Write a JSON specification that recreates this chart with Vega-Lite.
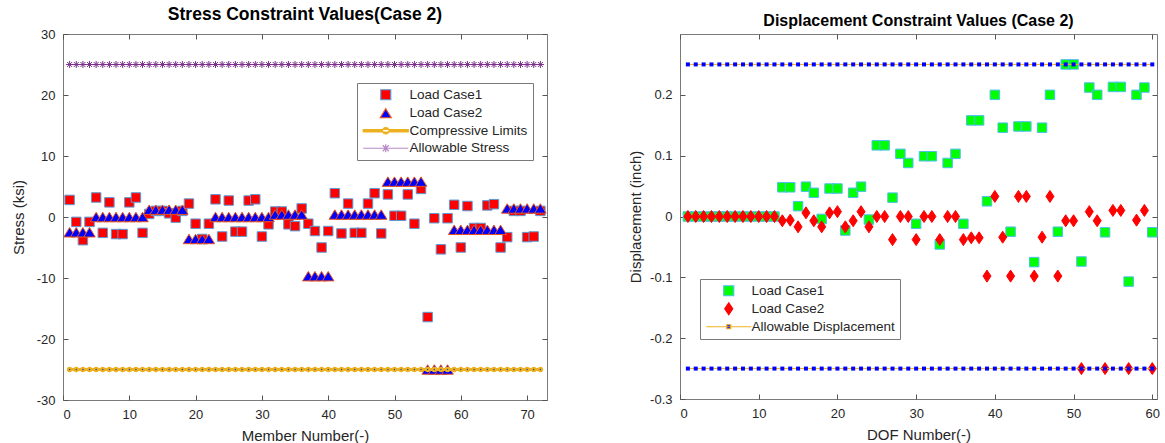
{
  "$schema": "https://vega.github.io/schema/vega-lite/v6.json",
  "padding": {"left": 10, "top": 5, "right": 7, "bottom": 0},
  "spacing": 79,
  "config": {
    "font": "Liberation Sans",
    "view": {"stroke": "#7a7a7a", "strokeWidth": 1},
    "axis": {"domain": false, "grid": false, "labelFont": "Liberation Sans", "labelFontSize": 13, "labelColor": "#262626", "tickColor": "#555555", "tickSize": -5, "labelPadding": 13, "titleFont": "Liberation Sans", "titleFontSize": 15, "titleFontWeight": "normal", "titleColor": "#262626"},
    "title": {"font": "Liberation Sans", "fontSize": 16, "fontWeight": "bold", "color": "#000000", "offset": 5, "anchor": "middle"},
    "legend": {"titleFontSize": 0}
  },
  "resolve": {"scale": {"fill": "independent", "stroke": "independent", "shape": "independent"}},
  "datasets": {
    "stress": [
      {"m":1,"lc1":2.8,"lc2":-2.5,"cl":-25,"as":25},
      {"m":2,"lc1":-0.8,"lc2":-2.5,"cl":-25,"as":25},
      {"m":3,"lc1":-3.8,"lc2":-2.5,"cl":-25,"as":25},
      {"m":4,"lc1":-0.8,"lc2":-2.5,"cl":-25,"as":25},
      {"m":5,"lc1":3.2,"lc2":0,"cl":-25,"as":25},
      {"m":6,"lc1":-2.6,"lc2":0,"cl":-25,"as":25},
      {"m":7,"lc1":2.4,"lc2":0,"cl":-25,"as":25},
      {"m":8,"lc1":-2.8,"lc2":0,"cl":-25,"as":25},
      {"m":9,"lc1":-2.8,"lc2":0,"cl":-25,"as":25},
      {"m":10,"lc1":2.4,"lc2":0,"cl":-25,"as":25},
      {"m":11,"lc1":3.2,"lc2":0,"cl":-25,"as":25},
      {"m":12,"lc1":-2.6,"lc2":0,"cl":-25,"as":25},
      {"m":13,"lc1":0.5,"lc2":1.2,"cl":-25,"as":25},
      {"m":14,"lc1":1.0,"lc2":1.2,"cl":-25,"as":25},
      {"m":15,"lc1":1.0,"lc2":1.2,"cl":-25,"as":25},
      {"m":16,"lc1":0.6,"lc2":1.2,"cl":-25,"as":25},
      {"m":17,"lc1":-0.1,"lc2":1.2,"cl":-25,"as":25},
      {"m":18,"lc1":1.0,"lc2":1.2,"cl":-25,"as":25},
      {"m":19,"lc1":2.2,"lc2":-3.6,"cl":-25,"as":25},
      {"m":20,"lc1":-1.1,"lc2":-3.6,"cl":-25,"as":25},
      {"m":21,"lc1":-3.6,"lc2":-3.6,"cl":-25,"as":25},
      {"m":22,"lc1":-1.1,"lc2":-3.6,"cl":-25,"as":25},
      {"m":23,"lc1":2.9,"lc2":0,"cl":-25,"as":25},
      {"m":24,"lc1":-3.2,"lc2":0,"cl":-25,"as":25},
      {"m":25,"lc1":2.7,"lc2":0,"cl":-25,"as":25},
      {"m":26,"lc1":-2.4,"lc2":0,"cl":-25,"as":25},
      {"m":27,"lc1":-2.4,"lc2":0,"cl":-25,"as":25},
      {"m":28,"lc1":2.7,"lc2":0,"cl":-25,"as":25},
      {"m":29,"lc1":2.9,"lc2":0,"cl":-25,"as":25},
      {"m":30,"lc1":-3.2,"lc2":0,"cl":-25,"as":25},
      {"m":31,"lc1":-1.2,"lc2":0,"cl":-25,"as":25},
      {"m":32,"lc1":0.9,"lc2":0.4,"cl":-25,"as":25},
      {"m":33,"lc1":0.9,"lc2":0.4,"cl":-25,"as":25},
      {"m":34,"lc1":-1.2,"lc2":0.4,"cl":-25,"as":25},
      {"m":35,"lc1":-1.5,"lc2":0.4,"cl":-25,"as":25},
      {"m":36,"lc1":1.4,"lc2":0.4,"cl":-25,"as":25},
      {"m":37,"lc1":-1.1,"lc2":-9.7,"cl":-25,"as":25},
      {"m":38,"lc1":-2.3,"lc2":-9.7,"cl":-25,"as":25},
      {"m":39,"lc1":-5.0,"lc2":-9.7,"cl":-25,"as":25},
      {"m":40,"lc1":-2.3,"lc2":-9.7,"cl":-25,"as":25},
      {"m":41,"lc1":3.9,"lc2":0.4,"cl":-25,"as":25},
      {"m":42,"lc1":-2.7,"lc2":0.4,"cl":-25,"as":25},
      {"m":43,"lc1":2.2,"lc2":0.4,"cl":-25,"as":25},
      {"m":44,"lc1":-2.6,"lc2":0.4,"cl":-25,"as":25},
      {"m":45,"lc1":-2.6,"lc2":0.4,"cl":-25,"as":25},
      {"m":46,"lc1":2.2,"lc2":0.4,"cl":-25,"as":25},
      {"m":47,"lc1":3.9,"lc2":0.4,"cl":-25,"as":25},
      {"m":48,"lc1":-2.7,"lc2":0.4,"cl":-25,"as":25},
      {"m":49,"lc1":3.7,"lc2":5.8,"cl":-25,"as":25},
      {"m":50,"lc1":0.2,"lc2":5.8,"cl":-25,"as":25},
      {"m":51,"lc1":0.2,"lc2":5.8,"cl":-25,"as":25},
      {"m":52,"lc1":3.7,"lc2":5.8,"cl":-25,"as":25},
      {"m":53,"lc1":-1.1,"lc2":5.8,"cl":-25,"as":25},
      {"m":54,"lc1":4.6,"lc2":5.8,"cl":-25,"as":25},
      {"m":55,"lc1":-16.4,"lc2":-25,"cl":-25,"as":25},
      {"m":56,"lc1":-0.2,"lc2":-25,"cl":-25,"as":25},
      {"m":57,"lc1":-5.3,"lc2":-25,"cl":-25,"as":25},
      {"m":58,"lc1":-0.2,"lc2":-25,"cl":-25,"as":25},
      {"m":59,"lc1":2.0,"lc2":-2.1,"cl":-25,"as":25},
      {"m":60,"lc1":-5.0,"lc2":-2.1,"cl":-25,"as":25},
      {"m":61,"lc1":1.8,"lc2":-2.1,"cl":-25,"as":25},
      {"m":62,"lc1":-1.8,"lc2":-2.1,"cl":-25,"as":25},
      {"m":63,"lc1":-1.8,"lc2":-2.1,"cl":-25,"as":25},
      {"m":64,"lc1":1.9,"lc2":-2.1,"cl":-25,"as":25},
      {"m":65,"lc1":2.1,"lc2":-2.1,"cl":-25,"as":25},
      {"m":66,"lc1":-5.0,"lc2":-2.1,"cl":-25,"as":25},
      {"m":67,"lc1":-3.3,"lc2":1.4,"cl":-25,"as":25},
      {"m":68,"lc1":1.0,"lc2":1.4,"cl":-25,"as":25},
      {"m":69,"lc1":1.0,"lc2":1.4,"cl":-25,"as":25},
      {"m":70,"lc1":-3.3,"lc2":1.4,"cl":-25,"as":25},
      {"m":71,"lc1":-3.2,"lc2":1.4,"cl":-25,"as":25},
      {"m":72,"lc1":1.0,"lc2":1.4,"cl":-25,"as":25}
    ],
    "disp": [
      {"d":1,"lc1":0,"lc2":0,"hi":0.25,"lo":-0.25},
      {"d":2,"lc1":0,"lc2":0,"hi":0.25,"lo":-0.25},
      {"d":3,"lc1":0,"lc2":0,"hi":0.25,"lo":-0.25},
      {"d":4,"lc1":0,"lc2":0,"hi":0.25,"lo":-0.25},
      {"d":5,"lc1":0,"lc2":0,"hi":0.25,"lo":-0.25},
      {"d":6,"lc1":0,"lc2":0,"hi":0.25,"lo":-0.25},
      {"d":7,"lc1":0,"lc2":0,"hi":0.25,"lo":-0.25},
      {"d":8,"lc1":0,"lc2":0,"hi":0.25,"lo":-0.25},
      {"d":9,"lc1":0,"lc2":0,"hi":0.25,"lo":-0.25},
      {"d":10,"lc1":0,"lc2":0,"hi":0.25,"lo":-0.25},
      {"d":11,"lc1":0,"lc2":0,"hi":0.25,"lo":-0.25},
      {"d":12,"lc1":0,"lc2":0,"hi":0.25,"lo":-0.25},
      {"d":13,"lc1":0.048,"lc2":-0.007,"hi":0.25,"lo":-0.25},
      {"d":14,"lc1":0.048,"lc2":-0.006,"hi":0.25,"lo":-0.25},
      {"d":15,"lc1":0.017,"lc2":-0.017,"hi":0.25,"lo":-0.25},
      {"d":16,"lc1":0.049,"lc2":0.006,"hi":0.25,"lo":-0.25},
      {"d":17,"lc1":0.039,"lc2":-0.007,"hi":0.25,"lo":-0.25},
      {"d":18,"lc1":-0.004,"lc2":-0.017,"hi":0.25,"lo":-0.25},
      {"d":19,"lc1":0.046,"lc2":0.006,"hi":0.25,"lo":-0.25},
      {"d":20,"lc1":0.046,"lc2":0.008,"hi":0.25,"lo":-0.25},
      {"d":21,"lc1":-0.023,"lc2":-0.017,"hi":0.25,"lo":-0.25},
      {"d":22,"lc1":0.039,"lc2":-0.007,"hi":0.25,"lo":-0.25},
      {"d":23,"lc1":0.049,"lc2":0.008,"hi":0.25,"lo":-0.25},
      {"d":24,"lc1":-0.005,"lc2":-0.017,"hi":0.25,"lo":-0.25},
      {"d":25,"lc1":0.117,"lc2":0,"hi":0.25,"lo":-0.25},
      {"d":26,"lc1":0.117,"lc2":0,"hi":0.25,"lo":-0.25},
      {"d":27,"lc1":0.031,"lc2":-0.038,"hi":0.25,"lo":-0.25},
      {"d":28,"lc1":0.103,"lc2":0,"hi":0.25,"lo":-0.25},
      {"d":29,"lc1":0.088,"lc2":0,"hi":0.25,"lo":-0.25},
      {"d":30,"lc1":-0.012,"lc2":-0.038,"hi":0.25,"lo":-0.25},
      {"d":31,"lc1":0.099,"lc2":0,"hi":0.25,"lo":-0.25},
      {"d":32,"lc1":0.099,"lc2":0,"hi":0.25,"lo":-0.25},
      {"d":33,"lc1":-0.046,"lc2":-0.038,"hi":0.25,"lo":-0.25},
      {"d":34,"lc1":0.088,"lc2":0,"hi":0.25,"lo":-0.25},
      {"d":35,"lc1":0.103,"lc2":0,"hi":0.25,"lo":-0.25},
      {"d":36,"lc1":-0.012,"lc2":-0.038,"hi":0.25,"lo":-0.25},
      {"d":37,"lc1":0.158,"lc2":-0.035,"hi":0.25,"lo":-0.25},
      {"d":38,"lc1":0.158,"lc2":-0.035,"hi":0.25,"lo":-0.25},
      {"d":39,"lc1":0.025,"lc2":-0.098,"hi":0.25,"lo":-0.25},
      {"d":40,"lc1":0.2,"lc2":0.033,"hi":0.25,"lo":-0.25},
      {"d":41,"lc1":0.146,"lc2":-0.034,"hi":0.25,"lo":-0.25},
      {"d":42,"lc1":-0.025,"lc2":-0.098,"hi":0.25,"lo":-0.25},
      {"d":43,"lc1":0.148,"lc2":0.033,"hi":0.25,"lo":-0.25},
      {"d":44,"lc1":0.148,"lc2":0.033,"hi":0.25,"lo":-0.25},
      {"d":45,"lc1":-0.075,"lc2":-0.098,"hi":0.25,"lo":-0.25},
      {"d":46,"lc1":0.146,"lc2":-0.034,"hi":0.25,"lo":-0.25},
      {"d":47,"lc1":0.2,"lc2":0.033,"hi":0.25,"lo":-0.25},
      {"d":48,"lc1":-0.025,"lc2":-0.098,"hi":0.25,"lo":-0.25},
      {"d":49,"lc1":0.25,"lc2":-0.007,"hi":0.25,"lo":-0.25},
      {"d":50,"lc1":0.25,"lc2":-0.007,"hi":0.25,"lo":-0.25},
      {"d":51,"lc1":-0.074,"lc2":-0.25,"hi":0.25,"lo":-0.25},
      {"d":52,"lc1":0.212,"lc2":0.008,"hi":0.25,"lo":-0.25},
      {"d":53,"lc1":0.2,"lc2":-0.007,"hi":0.25,"lo":-0.25},
      {"d":54,"lc1":-0.026,"lc2":-0.25,"hi":0.25,"lo":-0.25},
      {"d":55,"lc1":0.213,"lc2":0.01,"hi":0.25,"lo":-0.25},
      {"d":56,"lc1":0.213,"lc2":0.01,"hi":0.25,"lo":-0.25},
      {"d":57,"lc1":-0.107,"lc2":-0.25,"hi":0.25,"lo":-0.25},
      {"d":58,"lc1":0.2,"lc2":-0.006,"hi":0.25,"lo":-0.25},
      {"d":59,"lc1":0.212,"lc2":0.01,"hi":0.25,"lo":-0.25},
      {"d":60,"lc1":-0.026,"lc2":-0.25,"hi":0.25,"lo":-0.25}
    ]
  },
  "hconcat": [
    {
      "width": 484,
      "height": 366,
      "title": {"text": "Stress Constraint Values(Case 2)", "fontSize": 17.5},
      "data": {"name": "stress"},
      "resolve": {"axis": {"x": "independent", "y": "independent"}},
      "layer": [
        {
          "mark": {"type": "point", "filled": true, "opacity": 1, "size": 90, "strokeWidth": 1},
          "encoding": {
            "x": {"field": "m", "type": "quantitative", "scale": {"domain": [0, 73], "nice": false, "zero": false}, "axis": {"orient": "bottom", "values": [0,10,20,30,40,50,60,70], "labelExpr": "'' + datum.value", "title": "Member Number(-)", "titlePadding": 7}},
            "y": {"field": "lc1", "type": "quantitative", "scale": {"domain": [-30, 30], "nice": false, "zero": false}, "axis": {"orient": "left", "values": [-30,-20,-10,0,10,20,30], "labelExpr": "'' + datum.value", "title": "Stress (ksi)", "titlePadding": 10}},
            "fill": {"datum": "Load Case1", "type": "nominal", "scale": {"domain": ["Load Case1", "Load Case2", "Compressive Limits", "Allowable Stress"], "range": ["#ff0000", "#0000ff", "#EDB120", "#8d4c9e"]}, "legend": {"title": null, "orient": "none", "legendX": 294, "legendY": 49, "symbolSize": 100, "symbolStrokeWidth": 1.2, "symbolOffset": 17, "labelOffset": 17, "labelFont": "Liberation Sans", "labelFontSize": 13.5, "labelColor": "#262626", "strokeColor": "#7a7a7a", "fillColor": "#ffffff", "padding": 5, "rowPadding": 2.5, "labelLimit": 300}},
            "stroke": {"datum": "Load Case1", "type": "nominal", "scale": {"domain": ["Load Case1", "Load Case2", "Compressive Limits", "Allowable Stress"], "range": ["#5b9bd5", "#e8541c", "#EDB120", "#b98ac9"]}, "legend": {"title": null, "orient": "none", "legendX": 294, "legendY": 49, "symbolSize": 100, "symbolStrokeWidth": 1.2, "symbolOffset": 17, "labelOffset": 17, "labelFont": "Liberation Sans", "labelFontSize": 13.5, "labelColor": "#262626", "strokeColor": "#7a7a7a", "fillColor": "#ffffff", "padding": 5, "rowPadding": 2.5, "labelLimit": 300}},
            "shape": {"datum": "Load Case1", "type": "nominal", "scale": {"domain": ["Load Case1", "Load Case2", "Compressive Limits", "Allowable Stress"], "range": ["square", "M0,-0.9L1.1,0.9L-1.1,0.9Z", "M-4.5,-0.25L4.5,-0.25L4.5,0.25L-4.5,0.25ZM-0.65,0A0.65,0.65 0 1,0 0.65,0A0.65,0.65 0 1,0 -0.65,0Z", "M-4.5,0L4.5,0M-0.8,0L0.8,0M0,-0.8L0,0.8M-0.6,-0.6L0.6,0.6M-0.6,0.6L0.6,-0.6"]}, "legend": {"title": null, "orient": "none", "legendX": 294, "legendY": 49, "symbolSize": 100, "symbolStrokeWidth": 1.2, "symbolOffset": 17, "labelOffset": 17, "labelFont": "Liberation Sans", "labelFontSize": 13.5, "labelColor": "#262626", "strokeColor": "#7a7a7a", "fillColor": "#ffffff", "padding": 5, "rowPadding": 2.5, "labelLimit": 300}}
          }
        },
        {
          "mark": {"type": "point", "filled": true, "opacity": 1, "size": 110, "strokeWidth": 1},
          "encoding": {
            "x": {"field": "m", "type": "quantitative", "axis": {"orient": "top", "values": [0,10,20,30,40,50,60,70], "labels": false, "title": null}},
            "y": {"field": "lc2", "type": "quantitative", "axis": {"orient": "right", "values": [-30,-20,-10,0,10,20,30], "labels": false, "title": null}},
            "fill": {"datum": "Load Case2", "type": "nominal"},
            "stroke": {"datum": "Load Case2", "type": "nominal"},
            "shape": {"datum": "Load Case2", "type": "nominal"}
          }
        },
        {
          "mark": {"type": "line", "color": "#EDB120", "strokeWidth": 3},
          "encoding": {
            "x": {"field": "m", "type": "quantitative", "axis": null},
            "y": {"field": "cl", "type": "quantitative", "axis": null}
          }
        },
        {
          "mark": {"type": "point", "shape": "circle", "filled": true, "color": "#EDB120", "size": 30, "opacity": 1},
          "encoding": {
            "x": {"field": "m", "type": "quantitative", "axis": null},
            "y": {"field": "cl", "type": "quantitative", "axis": null}
          }
        },
        {
          "mark": {"type": "point", "shape": "circle", "filled": true, "color": "#3040a0", "size": 2, "opacity": 1},
          "encoding": {
            "x": {"field": "m", "type": "quantitative", "axis": null},
            "y": {"field": "cl", "type": "quantitative", "axis": null}
          }
        },
        {
          "mark": {"type": "line", "color": "#c9a0dc", "strokeWidth": 1},
          "encoding": {
            "x": {"field": "m", "type": "quantitative", "axis": null},
            "y": {"field": "as", "type": "quantitative", "axis": null}
          }
        },
        {
          "mark": {"type": "point", "shape": "M-1,0L1,0M0,-1L0,1M-0.7,-0.7L0.7,0.7M-0.7,0.7L0.7,-0.7", "filled": false, "color": "#7E2F8E", "size": 50, "strokeWidth": 1, "opacity": 1},
          "encoding": {
            "x": {"field": "m", "type": "quantitative", "axis": null},
            "y": {"field": "as", "type": "quantitative", "axis": null}
          }
        }
      ]
    },
    {
      "width": 477,
      "height": 365,
      "title": {"text": "Displacement Constraint Values (Case 2)", "fontSize": 16},
      "data": {"name": "disp"},
      "resolve": {"axis": {"x": "independent", "y": "independent"}},
      "layer": [
        {
          "mark": {"type": "point", "filled": true, "opacity": 1, "size": 90, "strokeWidth": 1},
          "encoding": {
            "x": {"field": "d", "type": "quantitative", "scale": {"domain": [0, 60.6], "nice": false, "zero": false}, "axis": {"orient": "bottom", "values": [0,10,20,30,40,50,60], "labelExpr": "'' + datum.value", "title": "DOF Number(-)", "titlePadding": 7}},
            "y": {"field": "lc1", "type": "quantitative", "scale": {"domain": [-0.3, 0.3], "nice": false, "zero": false}, "axis": {"orient": "left", "values": [-0.3,-0.2,-0.1,0,0.1,0.2], "labelExpr": "'' + datum.value", "title": "Displacement (inch)", "titlePadding": 6}},
            "fill": {"datum": "Load Case1", "type": "nominal", "scale": {"domain": ["Load Case1", "Load Case2", "Allowable Displacement"], "range": ["#00ff00", "#ff0000", "#0000ff"]}, "legend": {"title": null, "orient": "none", "legendX": 20, "legendY": 245, "symbolSize": 100, "symbolStrokeWidth": 1.2, "symbolOffset": 17, "labelOffset": 16, "labelFont": "Liberation Sans", "labelFontSize": 13.5, "labelColor": "#262626", "strokeColor": "#7a7a7a", "fillColor": "#ffffff", "padding": 5, "rowPadding": 1, "labelLimit": 300}},
            "stroke": {"datum": "Load Case1", "type": "nominal", "scale": {"domain": ["Load Case1", "Load Case2", "Allowable Displacement"], "range": ["#4dbeee", "#ff0000", "#EDB120"]}, "legend": {"title": null, "orient": "none", "legendX": 20, "legendY": 245, "symbolSize": 100, "symbolStrokeWidth": 1.2, "symbolOffset": 17, "labelOffset": 16, "labelFont": "Liberation Sans", "labelFontSize": 13.5, "labelColor": "#262626", "strokeColor": "#7a7a7a", "fillColor": "#ffffff", "padding": 5, "rowPadding": 1, "labelLimit": 300}},
            "shape": {"datum": "Load Case1", "type": "nominal", "scale": {"domain": ["Load Case1", "Load Case2", "Allowable Displacement"], "range": ["square", "M0,-1.2L0.8,0L0,1.2L-0.8,0Z", "M-4.5,0L4.5,0M-0.4,-0.4L0.4,-0.4L0.4,0.4L-0.4,0.4Z"]}, "legend": {"title": null, "orient": "none", "legendX": 20, "legendY": 245, "symbolSize": 100, "symbolStrokeWidth": 1.2, "symbolOffset": 17, "labelOffset": 16, "labelFont": "Liberation Sans", "labelFontSize": 13.5, "labelColor": "#262626", "strokeColor": "#7a7a7a", "fillColor": "#ffffff", "padding": 5, "rowPadding": 1, "labelLimit": 300}}
          }
        },
        {
          "mark": {"type": "point", "filled": true, "opacity": 1, "size": 100, "strokeWidth": 1},
          "encoding": {
            "x": {"field": "d", "type": "quantitative", "axis": {"orient": "top", "values": [0,10,20,30,40,50,60], "labels": false, "title": null}},
            "y": {"field": "lc2", "type": "quantitative", "axis": {"orient": "right", "values": [-0.3,-0.2,-0.1,0,0.1,0.2], "labels": false, "title": null}},
            "fill": {"datum": "Load Case2", "type": "nominal"},
            "stroke": {"datum": "Load Case2", "type": "nominal"},
            "shape": {"datum": "Load Case2", "type": "nominal"}
          }
        },
        {
          "mark": {"type": "line", "color": "#EDB120", "strokeWidth": 1},
          "encoding": {
            "x": {"field": "d", "type": "quantitative", "axis": null},
            "y": {"field": "hi", "type": "quantitative", "axis": null}
          }
        },
        {
          "mark": {"type": "line", "color": "#EDB120", "strokeWidth": 1},
          "encoding": {
            "x": {"field": "d", "type": "quantitative", "axis": null},
            "y": {"field": "lo", "type": "quantitative", "axis": null}
          }
        },
        {
          "mark": {"type": "point", "shape": "square", "filled": true, "color": "#0000ff", "size": 16, "opacity": 1},
          "encoding": {
            "x": {"field": "d", "type": "quantitative", "axis": null},
            "y": {"field": "hi", "type": "quantitative", "axis": null}
          }
        },
        {
          "mark": {"type": "point", "shape": "square", "filled": true, "color": "#0000ff", "size": 16, "opacity": 1},
          "encoding": {
            "x": {"field": "d", "type": "quantitative", "axis": null},
            "y": {"field": "lo", "type": "quantitative", "axis": null}
          }
        }
      ]
    }
  ]
}
